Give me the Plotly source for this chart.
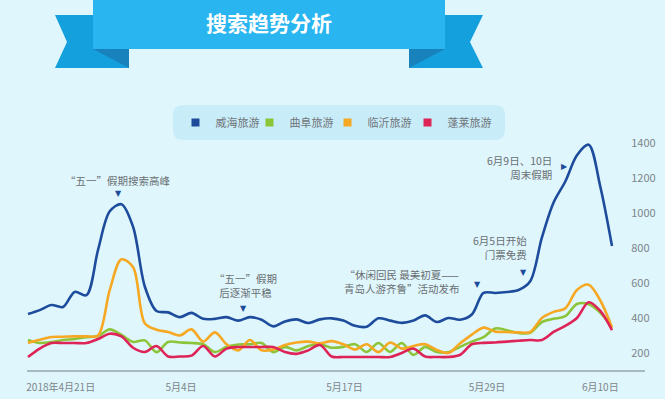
import plotly.graph_objects as go

# ---------------- data ----------------
DAYS = list(range(51))  # daily index, 2018-04-21 ...

weihai = [423, 445, 474, 463, 549, 530, 790, 1010, 1050, 920,
          580, 440, 432, 405, 429, 395, 395, 405, 385, 405,
          390, 352, 380, 392, 371, 392, 398, 385, 355, 350,
          398, 385, 372, 385, 415, 377, 400, 390, 420, 543,
          543, 548, 560, 610, 860, 1060, 1180, 1330, 1390, 1150,
          811]
qufu = [274, 257, 262, 274, 280, 290, 297, 335, 303, 263,
        272, 205, 263, 260, 257, 250, 205, 235, 248, 250,
        257, 205, 235, 215, 240, 250, 230, 235, 250, 206,
        257, 206, 257, 189, 235, 205, 205, 235, 265, 290,
        340, 330, 314, 315, 377, 395, 410, 480, 478, 430,
        345]
linyi = [257, 275, 291, 293, 295, 295, 300, 560, 735, 690,
         370, 333, 320, 300, 335, 265, 318, 250, 215, 274,
         215, 220, 245, 260, 265, 255, 268, 250, 220, 250,
         205, 260, 225, 240, 250, 217, 200, 255, 305, 345,
         322, 320, 318, 320, 400, 435, 455, 560, 590, 500,
         345]
penglai = [177, 225, 257, 257, 257, 257, 280, 310, 295, 230,
           206, 240, 180, 180, 185, 240, 180, 225, 234, 234,
           234, 234, 205, 195, 215, 246, 180, 177, 177, 177,
           177, 177, 200, 225, 180, 177, 177, 190, 250, 258,
           260, 265, 270, 274, 274, 320, 355, 400, 490, 440,
           330]

SERIES_NAMES = ["威海旅游", "曲阜旅游", "临沂旅游", "蓬莱旅游"]
TICK_DAYS = [2.8, 13.1, 27.1, 39.3, 49.0]
TICK_TEXT = ["2018年4月21日", "5月4日", "5月17日", "5月29日", "6月10日"]
Y_TICKS = [200, 400, 600, 800, 1000, 1200, 1400]

# ---------------- styling ----------------
W, H = 665, 399
PL, PR, PT, PB = 27, 625, 100, 371          # plot area in pixels
BG = "#DFF6FC"
COLORS = {"威海旅游": "#1D4C9C", "曲阜旅游": "#8CC53A",
          "临沂旅游": "#F6A823", "蓬莱旅游": "#DE2357"}
FONT = "Noto Sans CJK SC"
TXT = "#6a6f73"
LEGEND_SQUARE_PX = [194, 268, 346, 426]     # legend layout (pixels)


def px(x):
    return (x - PL) / (PR - PL)


def py(y):
    return (PB - y) / (PB - PT)


def poly(points):
    return "M " + " L ".join(f"{px(a):.5f},{py(b):.5f}" for a, b in points) + " Z"


def rounded(x0, y0, x1, y1, r):
    s = f"M {px(x0 + r):.5f},{py(y0):.5f} L {px(x1 - r):.5f},{py(y0):.5f} "
    s += f"Q {px(x1):.5f},{py(y0):.5f} {px(x1):.5f},{py(y0 + r):.5f} "
    s += f"L {px(x1):.5f},{py(y1 - r):.5f} "
    s += f"Q {px(x1):.5f},{py(y1):.5f} {px(x1 - r):.5f},{py(y1):.5f} "
    s += f"L {px(x0 + r):.5f},{py(y1):.5f} "
    s += f"Q {px(x0):.5f},{py(y1):.5f} {px(x0):.5f},{py(y1 - r):.5f} "
    s += f"L {px(x0):.5f},{py(y0 + r):.5f} "
    s += f"Q {px(x0):.5f},{py(y0):.5f} {px(x0 + r):.5f},{py(y0):.5f} Z"
    return s


fig = go.Figure()

series = {"威海旅游": weihai, "曲阜旅游": qufu, "临沂旅游": linyi, "蓬莱旅游": penglai}
legend_ids = ["legend", "legend2", "legend3", "legend4"]

# legend entries (square symbols), one small legend per entry for exact placement
for i, name in enumerate(SERIES_NAMES):
    fig.add_trace(go.Scatter(x=[None], y=[None], mode="markers", name=name,
                             legendgroup=name, legend=legend_ids[i],
                             marker=dict(symbol="square", size=8, color=COLORS[name])))

# lines: draw order green, orange, red, blue
for name in ["曲阜旅游", "临沂旅游", "蓬莱旅游", "威海旅游"]:
    fig.add_trace(go.Scatter(x=DAYS, y=series[name], mode="lines", name=name,
                             legendgroup=name, showlegend=False,
                             line=dict(color=COLORS[name], width=2.6,
                                       shape="spline", smoothing=0.9),
                             hoverinfo="x+y+name"))

shapes = []
# ribbon banner
shapes.append(dict(type="path", path=poly([(55, 15), (129, 15), (129, 68), (55, 68), (67, 42)]),
                   fillcolor="#14A0DD", line=dict(width=0), xref="paper", yref="paper"))
shapes.append(dict(type="path", path=poly([(483, 15), (409, 15), (409, 68), (483, 68), (470, 42)]),
                   fillcolor="#14A0DD", line=dict(width=0), xref="paper", yref="paper"))
shapes.append(dict(type="path", path=poly([(93, 49), (129, 49), (129, 68)]),
                   fillcolor="#1882BC", line=dict(width=0), xref="paper", yref="paper"))
shapes.append(dict(type="path", path=poly([(445, 49), (409, 49), (409, 68)]),
                   fillcolor="#1882BC", line=dict(width=0), xref="paper", yref="paper"))
shapes.append(dict(type="path", path=poly([(93, -2), (445, -2), (445, 49), (93, 49)]),
                   fillcolor="#29B5F0", line=dict(width=0), xref="paper", yref="paper"))
# legend box
shapes.append(dict(type="path", path=rounded(173, 105, 505, 140, 10),
                   fillcolor="#C9ECF9", line=dict(width=0), xref="paper", yref="paper",
                   layer="below"))
# baseline
shapes.append(dict(type="line", x0=px(27), x1=px(645), y0=0, y1=0, xref="paper", yref="paper",
                   line=dict(color="#A9B9C1", width=2)))
fig.update_layout(shapes=shapes)

ann = []
ann.append(dict(text="<b>搜索趋势分析</b>", x=px(269), y=py(22), xref="paper", yref="paper",
                showarrow=False, xanchor="center", yanchor="middle",
                font=dict(family=FONT, size=21, color="white")))


def note(text, x, y, align="center", xanchor="center"):
    ann.append(dict(text=text, x=px(x), y=py(y), xref="paper", yref="paper", showarrow=False,
                    align=align, xanchor=xanchor, yanchor="middle",
                    font=dict(family=FONT, size=10.5, color=TXT)))


def tri(sym, x, y):
    ann.append(dict(text=sym, x=px(x), y=py(y), xref="paper", yref="paper", showarrow=False,
                    xanchor="center", yanchor="middle",
                    font=dict(family="DejaVu Sans", size=8, color="#1D4C9C")))


note("“五一”假期搜索高峰", 118, 180)
tri("▼", 118, 193)
note("“五一”假期<br>后逐渐平稳", 245, 285)
tri("▼", 243, 308)
note("“休闲回民 最美初夏——<br>青岛人游齐鲁”活动发布", 402, 281)
tri("▼", 477, 284)
note("6月5日开始<br>门票免费", 529, 247, align="right", xanchor="right")
tri("▼", 523, 272)
note("6月9日、10日<br>周末假期", 554, 167, align="right", xanchor="right")
tri("▶", 564, 166)
fig.update_layout(annotations=ann)

legend_common = dict(orientation="h", yanchor="middle", xanchor="left", y=py(122.5),
                     bgcolor="rgba(0,0,0,0)", itemclick=False, itemdoubleclick=False,
                     font=dict(family=FONT, size=11, color="#6f7478"))
for lid, sx in zip(legend_ids, LEGEND_SQUARE_PX):
    fig.update_layout({lid: dict(x=px(sx - 18.5), **legend_common)})

fig.update_layout(
    width=W, height=H,
    margin=dict(l=PL, r=W - PR, t=PT, b=H - PB, pad=0),
    paper_bgcolor=BG, plot_bgcolor=BG,
    font=dict(family=FONT, color=TXT),
    showlegend=True,
    xaxis=dict(range=[-1 / 11.68, (PR - 28) / 11.68], tickvals=TICK_DAYS, ticktext=TICK_TEXT,
               showgrid=False, zeroline=False, showline=False, automargin=False,
               ticks="outside", ticklen=7, tickcolor="rgba(0,0,0,0)",
               tickfont=dict(family=FONT, size=10, color="#7d8589"),
               fixedrange=True),
    yaxis=dict(range=[97, 97 + (PB - PT) / 0.175], side="right", tickvals=Y_TICKS,
               showgrid=False, zeroline=False, showline=False, automargin=False,
               ticks="outside", ticklen=3, tickcolor="rgba(0,0,0,0)",
               tickfont=dict(family=FONT, size=11, color="#7d8589"),
               fixedrange=True),
)

fig.write_html("out.html", config={"displayModeBar": False},
               post_script="document.body.style.margin='0';document.body.style.overflow='hidden';")
